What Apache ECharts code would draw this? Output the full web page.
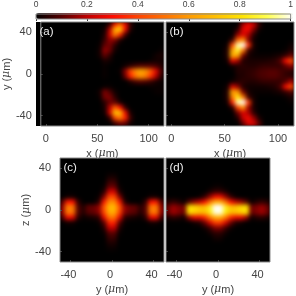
<!DOCTYPE html>
<html><head><meta charset="utf-8">
<style>
html,body{margin:0;padding:0;background:#fff;width:296px;height:296px;overflow:hidden}
#chart{position:absolute;left:0;top:0;width:296px;height:296px}
.back{position:absolute;background:#000}
canvas[data-zr-dom-id="zr_0"]{filter:blur(2.1px);clip-path:path("M36 22h128v104h-128z M166 22h128v104h-128z M60 158h104v104h-104z M166 158h104v104h-104z")}
</style>
<script src="https://cdn.jsdelivr.net/npm/echarts@6/dist/echarts.min.js"></script>
</head><body>
<div class="back" style="left:36px;top:22px;width:128px;height:104px"></div>
<div class="back" style="left:166px;top:22px;width:128px;height:104px"></div>
<div class="back" style="left:60px;top:158px;width:104px;height:104px"></div>
<div class="back" style="left:166px;top:158px;width:104px;height:104px"></div>
<div id="chart"></div>
<script>
// Intensity, in percent; rows run top to bottom.
const panelA = [
[0,0,0,0,0,0,0,0,0,0,0,0,0,6,32,48,28,6,0,0,0,0,0,0],
[0,0,0,0,0,0,0,0,0,0,0,0,2,20,66,74,28,4,0,0,0,0,0,0],
[0,0,0,0,0,0,0,0,0,0,0,0,4,24,54,34,8,0,0,0,0,0,0,0],
[0,0,0,0,0,0,0,0,0,0,0,0,7,16,14,4,0,0,0,0,0,0,0,0],
[0,0,0,0,0,0,0,0,0,0,0,1,11,13,5,0,0,0,0,0,0,0,0,0],
[0,0,0,0,0,0,0,0,0,0,0,2,16,12,2,0,0,0,0,0,0,0,0,1],
[0,0,0,0,0,0,0,0,0,0,0,2,11,5,0,0,0,0,0,0,0,0,2,3],
[0,0,0,0,0,0,0,0,0,0,0,0,3,2,0,0,0,0,0,0,0,1,2,2],
[0,0,0,0,0,0,0,0,0,0,0,0,1,0,0,0,2,5,8,10,10,10,8,4],
[0,0,0,0,0,0,0,0,0,0,0,0,1,0,0,1,15,40,56,64,58,44,25,8],
[0,0,0,0,0,0,0,0,0,0,0,0,1,0,0,0,12,34,50,58,52,36,18,5],
[0,0,0,0,0,0,0,0,0,0,0,0,0,0,0,0,0,4,8,10,9,6,3,1],
[0,0,0,0,0,0,0,0,0,0,0,0,1,1,0,0,0,0,0,0,0,1,1,1],
[0,0,0,0,0,0,0,0,0,0,0,2,14,9,2,0,0,0,0,0,0,0,1,1],
[0,0,0,0,0,0,0,0,0,0,0,1,13,14,5,0,0,0,0,0,0,0,0,0],
[0,0,0,0,0,0,0,0,0,0,0,0,5,12,11,3,0,0,0,0,0,0,0,0],
[0,0,0,0,0,0,0,0,0,0,0,0,3,20,46,30,6,0,0,0,0,0,0,0],
[0,0,0,0,0,0,0,0,0,0,0,0,2,24,72,68,28,3,0,0,0,0,0,0],
[0,0,0,0,0,0,0,0,0,0,0,0,0,6,40,52,34,7,0,0,0,0,0,0],
[0,0,0,0,0,0,0,0,0,0,0,0,0,0,7,13,11,2,0,0,0,0,0,0]
];
const panelB = [
[0,0,0,0,0,0,0,0,0,0,0,0,0,0,18,28,22,6,0,0,0,0,0,0],
[0,0,0,0,0,0,0,0,0,0,0,0,0,5,25,28,14,2,0,0,0,0,0,0],
[0,0,0,0,0,0,0,0,0,0,0,0,0,16,26,18,5,0,0,0,0,0,0,0],
[0,0,0,0,0,0,0,0,0,0,0,0,7,48,58,14,2,0,0,0,0,0,0,0],
[0,0,0,0,0,0,0,0,0,0,0,2,40,95,100,36,3,0,0,0,0,0,0,2],
[0,0,0,0,0,0,0,0,0,0,0,4,62,86,52,7,2,0,0,0,0,0,1,4],
[0,0,0,0,0,0,0,0,0,0,0,4,65,62,13,3,1,1,1,1,2,3,6,12],
[0,0,0,0,0,0,0,0,0,0,0,2,26,18,4,3,3,3,3,4,5,10,30,42],
[0,0,0,0,0,0,0,0,0,0,0,0,2,4,5,4,4,5,6,6,6,6,11,16],
[0,0,0,0,0,0,0,0,0,0,0,0,0,4,4,5,6,8,9,10,10,8,6,5],
[0,0,0,0,0,0,0,0,0,0,0,0,0,3,4,5,6,8,9,10,10,8,6,5],
[0,0,0,0,0,0,0,0,0,0,0,0,2,4,5,4,4,5,6,6,6,6,10,18],
[0,0,0,0,0,0,0,0,0,0,0,2,24,16,4,2,2,2,2,3,4,9,30,42],
[0,0,0,0,0,0,0,0,0,0,0,4,62,58,13,3,1,1,1,1,2,3,6,10],
[0,0,0,0,0,0,0,0,0,0,0,4,54,82,52,7,2,0,0,0,0,0,1,3],
[0,0,0,0,0,0,0,0,0,0,0,2,33,95,100,38,3,0,0,0,0,0,0,1],
[0,0,0,0,0,0,0,0,0,0,0,0,5,40,58,16,3,0,0,0,0,0,0,0],
[0,0,0,0,0,0,0,0,0,0,0,0,0,13,25,18,5,0,0,0,0,0,0,0],
[0,0,0,0,0,0,0,0,0,0,0,0,0,4,22,28,16,3,0,0,0,0,0,0],
[0,0,0,0,0,0,0,0,0,0,0,0,0,0,12,25,24,10,0,0,0,0,0,0]
];
const panelC = [
[0,0,0,0,0,0,0,0,0,0,0,0,0,0,0,0,0,0,0,0],
[0,0,0,0,0,0,0,0,0,0,0,0,0,0,0,0,0,0,0,0],
[0,0,0,0,0,0,0,0,0,0,0,0,0,0,0,0,0,0,0,0],
[0,0,0,0,0,0,0,0,0,2,2,0,0,0,0,0,0,0,0,0],
[0,0,0,0,0,0,0,0,0,6,6,0,0,0,0,0,0,0,0,0],
[0,0,0,0,0,0,0,0,1,11,11,1,0,0,0,0,0,0,0,0],
[0,0,0,0,0,0,0,0,4,22,22,4,0,0,0,0,0,0,0,0],
[0,2,2,0,0,0,0,1,14,40,40,14,1,0,0,0,0,2,2,0],
[10,32,30,6,0,0,0,5,32,56,56,32,5,0,0,0,6,30,32,10],
[16,54,52,10,4,11,12,16,44,68,68,44,16,12,11,5,10,52,54,16],
[16,52,50,10,4,10,11,15,40,64,64,40,15,11,10,4,10,50,52,16],
[8,27,25,5,1,2,3,5,26,50,50,26,5,3,2,1,5,25,27,8],
[0,2,2,0,0,0,0,1,10,34,34,10,1,0,0,0,0,2,2,0],
[0,0,0,0,0,0,0,0,4,20,20,4,0,0,0,0,0,0,0,0],
[0,0,0,0,0,0,0,0,1,10,10,1,0,0,0,0,0,0,0,0],
[0,0,0,0,0,0,0,0,0,6,6,0,0,0,0,0,0,0,0,0],
[0,0,0,0,0,0,0,0,0,3,3,0,0,0,0,0,0,0,0,0],
[0,0,0,0,0,0,0,0,0,1,1,0,0,0,0,0,0,0,0,0],
[0,0,0,0,0,0,0,0,0,0,0,0,0,0,0,0,0,0,0,0],
[0,0,0,0,0,0,0,0,0,0,0,0,0,0,0,0,0,0,0,0]
];
const panelD = [
[0,0,0,0,0,0,0,0,0,0,0,0,0,0,0,0,0,0,0,0],
[0,0,0,0,0,0,0,0,0,0,0,0,0,0,0,0,0,0,0,0],
[0,0,0,0,0,0,0,0,0,0,0,0,0,0,0,0,0,0,0,0],
[0,0,0,0,0,0,0,0,0,0,0,0,0,0,0,0,0,0,0,0],
[0,0,0,0,0,0,0,0,0,0,0,0,0,0,0,0,0,0,0,0],
[0,0,0,0,0,0,0,0,0,1,1,0,0,0,0,0,0,0,0,0],
[0,0,0,0,0,0,0,0,3,6,6,3,0,0,0,0,0,0,0,0],
[0,0,0,0,0,0,1,6,16,28,28,16,6,1,0,0,0,0,0,0],
[4,6,4,1,10,16,20,30,50,66,66,50,30,20,16,10,1,4,6,4],
[12,17,14,13,80,78,72,72,84,100,100,84,72,72,78,80,13,14,17,12],
[12,17,14,12,78,74,70,70,82,98,98,82,70,70,74,78,12,14,17,12],
[3,5,4,2,16,26,26,34,52,65,65,52,34,26,26,16,2,4,5,3],
[0,0,0,0,0,2,4,12,24,38,38,24,12,4,2,0,0,0,0,0],
[0,0,0,0,0,0,0,2,7,14,14,7,2,0,0,0,0,0,0,0],
[0,0,0,0,0,0,0,0,2,5,5,2,0,0,0,0,0,0,0,0],
[0,0,0,0,0,0,0,0,0,2,2,0,0,0,0,0,0,0,0,0],
[0,0,0,0,0,0,0,0,0,0,0,0,0,0,0,0,0,0,0,0],
[0,0,0,0,0,0,0,0,0,0,0,0,0,0,0,0,0,0,0,0],
[0,0,0,0,0,0,0,0,0,0,0,0,0,0,0,0,0,0,0,0],
[0,0,0,0,0,0,0,0,0,0,0,0,0,0,0,0,0,0,0,0]
];
const panelTags = ['(a)','(b)','(c)','(d)'];
const xTicks = [0,50,100];
const yTicks = [-40,0,40];
const topColorStops = ['#000000','#560000','#c00000','#ff0c00','#ff4400','#ff7000','#ff9c00','#ffc000','#ffe400','#ffff50','#ffffff'];

const TXT = '#444';
const FONT = 'Liberation Sans';
const panels = [
 {data:panelA, grid:{left:36,top:22,width:128,height:104}, xr:[-5,115], xt:xTicks, xn:'x', yn:'y', tag:[39.5,26], pad:0},
 {data:panelB, grid:{left:166,top:22,width:128,height:104}, xr:[-5,115], xt:xTicks, xn:'x', yn:null, tag:[169.5,26], pad:0},
 {data:panelC, grid:{left:60,top:158,width:104,height:104}, xr:[-50,50], xt:yTicks, xn:'y', yn:'z', tag:[63.5,162], pad:4},
 {data:panelD, grid:{left:166,top:158,width:104,height:104}, xr:[-50,50], xt:yTicks, xn:'y', yn:null, tag:[169.5,162], pad:4}
];
const rich = {i:{fontStyle:'italic',fontFamily:'DejaVu Serif',fontSize:11,color:TXT}};
const grids=[],xAxes=[],yAxes=[],series=[],graphics=[];
const idx = n => Array.from({length:n},(_,i)=>i);
panels.forEach((p,i)=>{
  grids.push(Object.assign({show:true,zlevel:1,z:3,borderColor:'#8a8a8a',borderWidth:1,backgroundColor:'transparent',containLabel:false},p.grid));
  xAxes.push({type:'category',gridIndex:i,position:'top',show:false,data:idx(p.data[0].length)});
  yAxes.push({type:'category',gridIndex:i,position:'right',show:false,inverse:true,data:idx(p.data.length)});
  series.push({type:'heatmap',xAxisIndex:i,yAxisIndex:i,zlevel:0,progressive:0,silent:true,
    data:p.data.flatMap((row,r)=>row.map((v,c)=>[c,r,v/100])),itemStyle:{borderWidth:0}});
});
panels.forEach((p,i)=>{
  xAxes.push({type:'value',gridIndex:i,position:'bottom',min:p.xr[0],max:p.xr[1],zlevel:1,
    splitLine:{show:false},axisLine:{show:false},
    axisTick:{show:true,inside:true,length:2,lineStyle:{color:'#444'},customValues:p.xt},
    axisLabel:{show:true,customValues:p.xt,margin:7,padding:[0,p.pad,0,0],color:TXT,fontSize:11,fontFamily:FONT,hideOverlap:false},
    name:p.xn+' ({i|μ}m)',nameLocation:'middle',nameGap:22,
    nameTextStyle:{color:TXT,fontSize:11,fontFamily:FONT,rich}});
  yAxes.push({type:'value',gridIndex:i,position:'left',min:-50,max:50,zlevel:1,
    splitLine:{show:false},axisLine:{show:false},
    axisTick:{show:true,inside:true,length:2,lineStyle:{color:'#444'},customValues:yTicks},
    axisLabel:{show:p.yn!==null,customValues:yTicks,margin:9,color:TXT,fontSize:11,fontFamily:FONT},
    name:p.yn?p.yn+' ({i|μ}m)':'',nameLocation:'middle',nameGap:25,
    nameTextStyle:{color:TXT,fontSize:11,fontFamily:FONT,rich}});
  graphics.push({type:'text',zlevel:1,z:10,x:p.tag[0],y:p.tag[1],style:{text:panelTags[i],fill:'#eee',font:'11.5px "Liberation Sans"'}});
});
grids.push({show:true,zlevel:1,z:5,left:36,top:13,width:257,height:6,borderColor:'#8a8a8a',borderWidth:1,backgroundColor:'transparent'});
xAxes.push({type:'value',gridIndex:4,position:'top',min:0,max:1,interval:0.2,zlevel:1,
  splitLine:{show:false},axisLine:{show:false},
  axisTick:{show:true,inside:true,length:2,lineStyle:{color:'#333'}},
  axisLabel:{margin:5,color:TXT,fontSize:8.5,fontFamily:FONT}});
yAxes.push({type:'value',gridIndex:4,show:false,min:0,max:1});

const chart = echarts.init(document.getElementById('chart'),null,{renderer:'canvas'});
chart.setOption({
  animation:false,
  backgroundColor:'transparent',
  grid:grids,xAxis:xAxes,yAxis:yAxes,series,
  graphic:graphics,
  visualMap:{type:'continuous',min:0,max:1,seriesIndex:[0,1,2,3],orient:'horizontal',left:36,top:13,
    itemWidth:6,itemHeight:257,calculable:false,showLabel:false,text:null,padding:0,zlevel:1,z:1,hoverLink:false,
    inRange:{color:topColorStops}}
});
</script>
</body></html>
